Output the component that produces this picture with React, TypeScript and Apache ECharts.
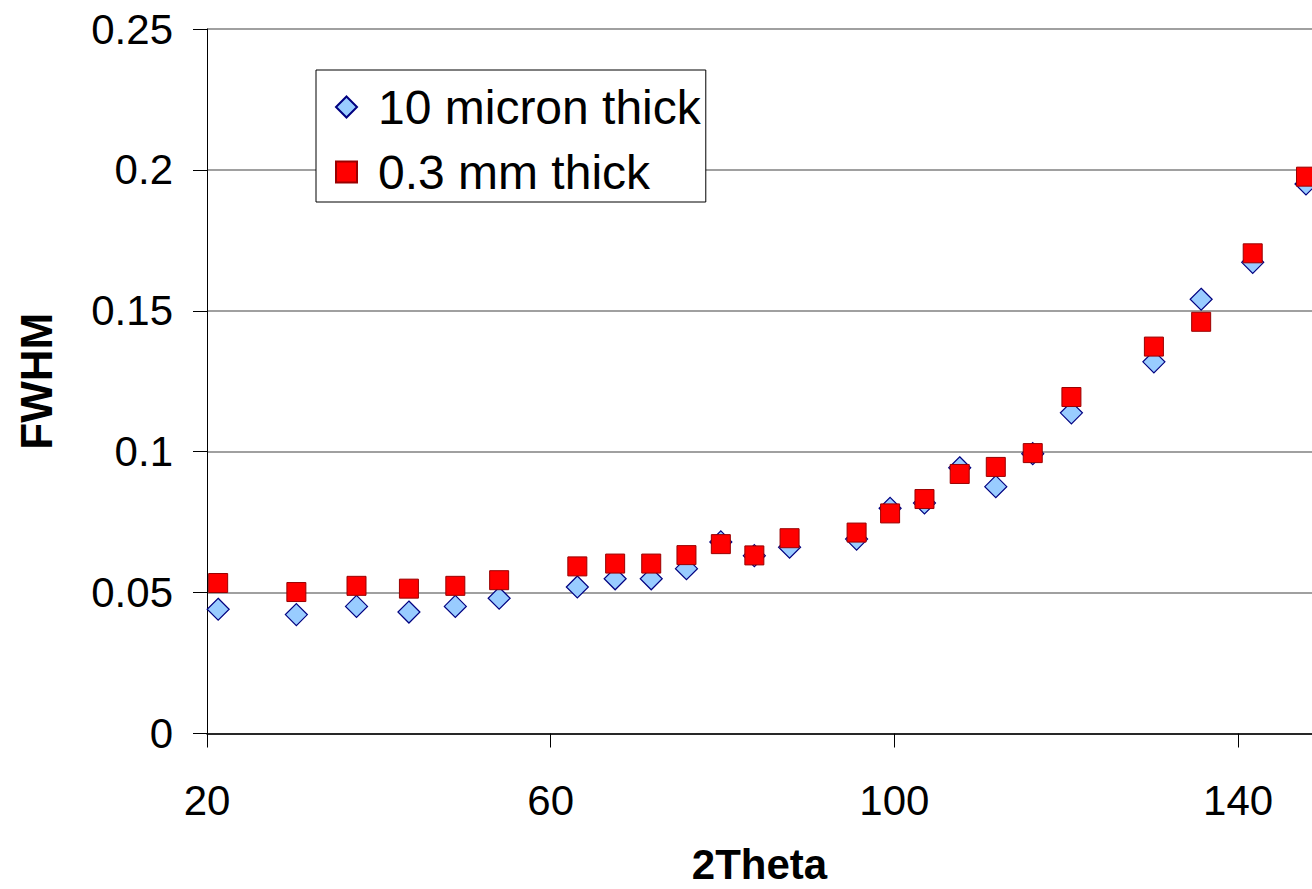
import React, { useEffect, useRef } from "react";
import * as echarts from "echarts";

const twoTheta = [21.3, 30.4, 37.4, 43.5, 48.9, 54.0, 63.1, 67.5, 71.7, 75.8, 79.8, 83.7, 87.8, 95.6, 99.5, 103.5, 107.6, 111.8, 116.1, 120.6, 130.2, 135.7, 141.7, 147.9];
const micron10 = [0.0441, 0.0422, 0.0451, 0.0431, 0.0451, 0.048, 0.052, 0.0549, 0.0549, 0.0585, 0.068, 0.0631, 0.0661, 0.069, 0.0799, 0.0818, 0.0943, 0.0876, 0.0993, 0.1138, 0.1319, 0.1541, 0.1672, 0.195];
const mm03 = [0.0534, 0.0502, 0.0524, 0.0514, 0.0524, 0.0544, 0.0593, 0.0603, 0.0603, 0.0633, 0.0672, 0.0632, 0.0693, 0.0713, 0.0781, 0.0832, 0.0921, 0.0946, 0.0995, 0.1194, 0.1373, 0.1461, 0.1704, 0.1976];
const seriesNames = ["10 micron thick", "0.3 mm thick"];
const xTicks = [20, 60, 100, 140];

const FONT = "'Liberation Sans', Arial, Helvetica, sans-serif";

export default function App() {
  const ref = useRef<HTMLDivElement>(null);
  useEffect(() => {
    if (!ref.current) return;
    const chart = echarts.init(ref.current, null, { renderer: "svg" });
    chart.setOption({
      animation: false,
      backgroundColor: "#ffffff",
      grid: { left: 207, right: 0, top: 29, bottom: 155.5, containLabel: false, outerBoundsMode: "none" },
      legend: {
        orient: "vertical",
        left: 316,
        top: 70,
        padding: [13, 5, 6, 19],
        itemGap: 17,
        itemWidth: 21,
        itemHeight: 21,
        itemTextGap: 10,
        backgroundColor: "#ffffff",
        borderColor: "#000000",
        borderWidth: 1,
        borderRadius: 0,
        textStyle: { fontFamily: FONT, fontSize: 48, color: "#000", padding: [0, 0, 0, 16] },
        data: seriesNames,
      },
      xAxis: {
        type: "value",
        min: 20,
        max: 148.6,
        interval: 40,
        name: "2Theta",
        nameLocation: "middle",
        nameGap: 110,
        nameTextStyle: { fontFamily: FONT, fontSize: 42, lineHeight: 42, fontWeight: "bold", color: "#000" },
        axisLine: { lineStyle: { color: "#000", width: 1.5 } },
        axisTick: { show: true, length: 14, lineStyle: { color: "#000" } },
        axisLabel: {
          margin: 46,
          fontFamily: FONT,
          fontSize: 42,
          color: "#000",
          formatter: (v: number) => (xTicks.indexOf(Math.round(v * 1000) / 1000) >= 0 ? String(v) : ""),
        },
        splitLine: { show: false },
      },
      yAxis: {
        type: "value",
        min: 0,
        max: 0.25,
        interval: 0.05,
        name: "FWHM",
        nameLocation: "middle",
        nameGap: 149,
        nameTextStyle: { fontFamily: FONT, fontSize: 44, fontWeight: "bold", color: "#000" },
        axisLine: { show: true, lineStyle: { color: "#000", width: 1 } },
        axisTick: { show: true, length: 14, lineStyle: { color: "#000" } },
        axisLabel: { margin: 34, fontFamily: FONT, fontSize: 42, color: "#000" },
        splitLine: { show: true, lineStyle: { color: "#808080", width: 1.5 } },
      },
      series: [
        {
          name: seriesNames[0],
          type: "scatter",
          symbol: "diamond",
          symbolSize: 22,
          itemStyle: { color: "#99CCFF", borderColor: "#000080", borderWidth: 1.2, opacity: 1 },
          data: twoTheta.map((x, i) => [x, micron10[i]]),
          z: 2,
        },
        {
          name: seriesNames[1],
          type: "scatter",
          symbol: "rect",
          symbolSize: 19,
          itemStyle: { color: "#FF0000", borderColor: "#990000", borderWidth: 1, opacity: 1 },
          data: twoTheta.map((x, i) => [x, mm03[i]]),
          z: 3,
        },
      ],
    });
    return () => chart.dispose();
  }, []);
  return (
    <div
      ref={ref}
      style={{ position: "fixed", left: 0, top: 0, width: 1312, height: 889, background: "#fff" }}
    />
  );
}
